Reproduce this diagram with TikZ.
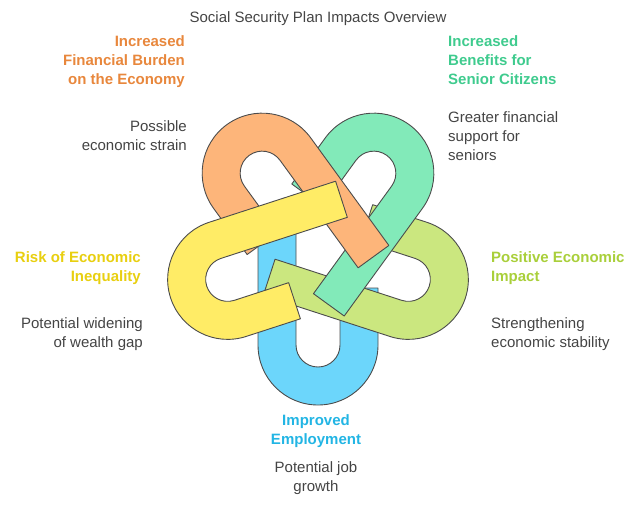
\documentclass[tikz,border=0pt]{standalone}
\usepackage{fontspec}
\setmainfont{Liberation Sans}
\definecolor{cor}{HTML}{FDB57A}\definecolor{cgr}{HTML}{82EAB9}
\definecolor{clg}{HTML}{CBE77F}\definecolor{cbl}{HTML}{6CD6FB}
\definecolor{cye}{HTML}{FFEC66}
\definecolor{tor}{HTML}{E8873C}\definecolor{tgr}{HTML}{3FCB8E}
\definecolor{tlg}{HTML}{A9CF3A}\definecolor{tbl}{HTML}{22B5E4}
\definecolor{tye}{HTML}{E8CF10}\definecolor{tx}{HTML}{444444}
\tikzset{ushape/.style={draw=black!70,line width=0.9pt,line join=round},
 ttl/.style={font=\fontsize{15}{19}\selectfont\bfseries,inner sep=0pt},
 dsc/.style={font=\fontsize{15}{19}\selectfont,text=tx,inner sep=0pt}}
\newcommand{\ushp}[2]{\begin{scope}[yscale=-1,rotate=#1]
\path[ushape,fill=#2] (-60,38) -- (-60,-95) arc[start angle=180,end angle=360,radius=60] -- (60,-38) -- (22,-38) -- (22,-95) arc[start angle=0,end angle=-180,radius=22] -- (-22,38) -- cycle;
\end{scope}}
\begin{document}
\begin{tikzpicture}[x=1pt,y=-1pt]
\useasboundingbox (0,0) rectangle (644,509);
\begin{scope}[shift={(318,250)}]
\ushp{0}{cbl}
\ushp{-72}{clg}
\ushp{-144}{cgr}
\ushp{-216}{cor}
\ushp{-288}{cye}
\end{scope}
\node (t) at (318,19) [font=\fontsize{15}{16}\selectfont,text=tx] {Social Security Plan Impacts Overview};
\node (ol) [ttl,text=tor,anchor=north east,align=right] at (185,35) {Increased\\Financial Burden\\on the Economy};
\node (od) [dsc,anchor=north east,align=right] at (187,120) {Possible\\economic strain};
\node (gl) [ttl,text=tgr,anchor=north west,align=left] at (448,35) {Increased\\Benefits for\\Senior Citizens};
\node (gd) [dsc,anchor=north west,align=left] at (448,111) {Greater financial\\support for\\seniors};
\node (yl) [ttl,text=tye,anchor=north east,align=right] at (141,251) {Risk of Economic\\Inequality};
\node (yd) [dsc,anchor=north east,align=right] at (143,317) {Potential widening\\of wealth gap};
\node (ll) [ttl,text=tlg,anchor=north west,align=left] at (491,251) {Positive Economic\\Impact};
\node (ld) [dsc,anchor=north west,align=left] at (491,317) {Strengthening\\economic stability};
\node (bl) [ttl,text=tbl,anchor=north,align=center] at (316,414) {Improved\\Employment};
\node (bd) [dsc,anchor=north,align=center] at (316,461) {Potential job\\growth};
\end{tikzpicture}
\end{document}
